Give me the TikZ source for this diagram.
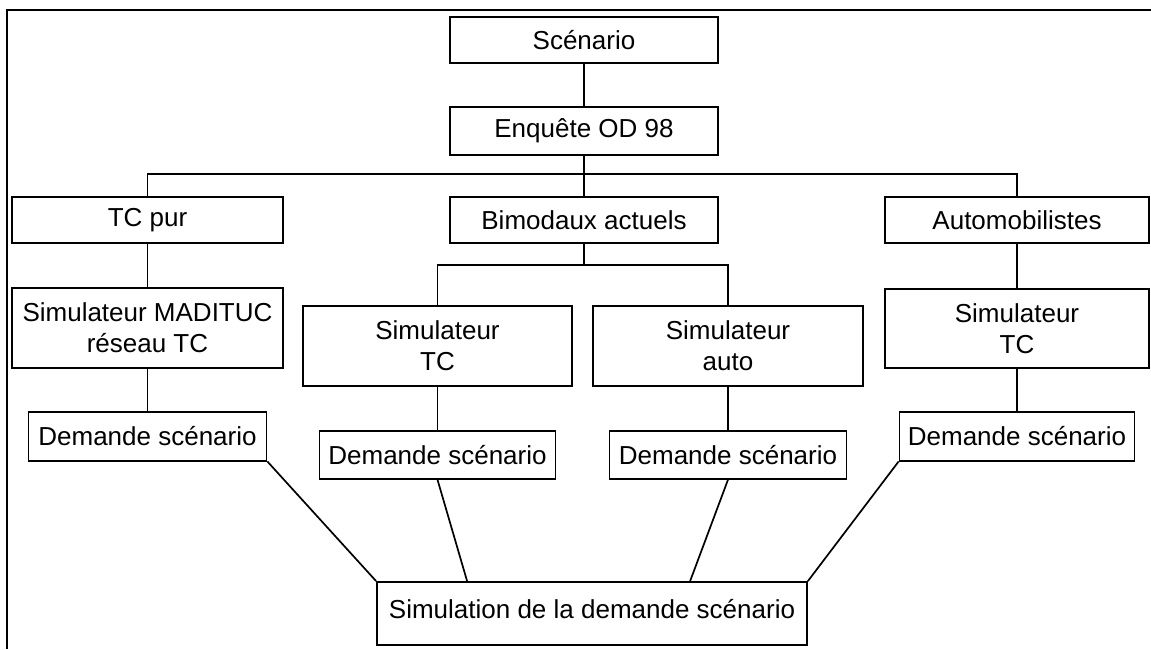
\documentclass[tikz,border=0pt]{standalone}
\usepackage{fontspec}
\setmainfont{Liberation Sans}
\usetikzlibrary{positioning}

\begin{document}
\begin{tikzpicture}[
    x=1pt, y=1pt,
    box/.style={rectangle, draw, line width=1.8pt, inner sep=0pt, minimum height=46pt, align=center, font=\fontsize{26}{31}\selectfont},
    link/.style={line width=1.7pt}
]
\useasboundingbox (0,0) rectangle (1151,649);
\draw[link] (7,0) -- (7,639) -- (1151,639);

\node[box, minimum width=268pt] (scen) at (584,609) {Scénario};
\node[box, minimum width=268pt, minimum height=48pt] (enq) at (584,518) {Enquête OD 98};
\node[box, minimum width=271pt] (tcpur) at (147.5,429) {TC pur};
\node[box, minimum width=268pt] (bimod) at (584,429) {Bimodaux actuels};
\node[box, minimum width=264pt] (automob) at (1017,429) {Automobilistes};

\node[box, minimum width=271pt, minimum height=80pt, below=43pt of tcpur] (simmad) {Simulateur MADITUC\\réseau TC};
\node[box, minimum width=269pt, minimum height=80pt] (simtc) at (437.5,303) {Simulateur\\TC};
\node[box, minimum width=270pt, minimum height=80pt] (simauto) at (728,303) {Simulateur\\auto};
\node[box, minimum width=264pt, minimum height=79pt, below=44pt of automob] (simtca) {Simulateur\\TC};

\node[box, minimum width=238pt, minimum height=49pt, below=42pt of simmad] (dem1) {Demande scénario};
\node[box, minimum width=236pt, minimum height=48pt, below=43pt of simtc] (dem2) {Demande scénario};
\node[box, minimum width=237pt, minimum height=48pt, below=43pt of simauto] (dem3) {Demande scénario};
\node[box, minimum width=235pt, minimum height=49pt, below=42pt of simtca] (dem4) {Demande scénario};

\node[box, minimum width=430pt, text height=36pt, text depth=27pt] (simul) at (592,35.5) {Simulation de la demande scénario};

\coordinate (bus) at (584,475);
\coordinate (fork) at (584,384);

\draw[link] (scen) -- (enq);
\draw[link] (enq) -- (bimod);
\draw[link] (tcpur.north) |- (bus) -| (automob.north);
\draw[link] (bimod.south) -- (fork);
\draw[link] (simtc.north) |- (fork) -| (simauto.north);

\draw[link] (tcpur) -- (simmad);
\draw[link] (simmad) -- (dem1);
\draw[link] (simtc) -- (dem2);
\draw[link] (simauto) -- (dem3);
\draw[link] (automob) -- (simtca);
\draw[link] (simtca) -- (dem4);

\draw[link] (dem1.south east) -- (simul.north west);
\draw[link] (dem2.south) -- ([xshift=91pt]simul.north west);
\draw[link] (dem3.south) -- ([xshift=314pt]simul.north west);
\draw[link] (dem4.south west) -- (simul.north east);
\end{tikzpicture}
\end{document}
